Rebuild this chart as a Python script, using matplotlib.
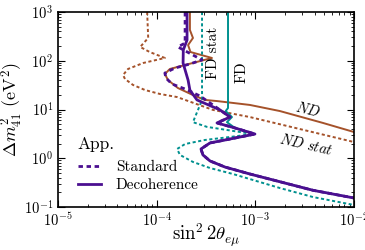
import numpy as np
import matplotlib
matplotlib.use('Agg')
import matplotlib.pyplot as plt

plt.rcParams['font.family'] = 'cmr10'
plt.rcParams['mathtext.fontset'] = 'cm'
plt.rcParams['axes.formatter.use_mathtext'] = True
plt.rcParams['font.size'] = 10

# ND stat (brown dashed)
nd_stat_s = [8.0e-5, 8.2e-5, 6.8e-5, 8.5e-5, 1.21e-4, 7.3e-5, 5.12e-5, 4.56e-5, 4.77e-5, 5.75e-5,
             7.61e-5, 1.08e-4, 1.61e-4, 3.72e-4, 8.8e-4, 1e-2]
nd_stat_dm = [1000, 293, 192, 151, 114, 90, 67.8, 51, 42.3, 31.9,
              25.1, 20.8, 18.0, 9.8, 7.0, 2.15]

# ND (brown solid)
nd_s = [2.17e-4, 2.17e-4, 2.33e-4, 2.08e-4, 2.2e-4, 3.63e-4, 1.94e-4, 1.36e-4, 1.21e-4, 1.30e-4,
        1.64e-4, 2.33e-4, 3.08e-4, 4.08e-4, 8.8e-4, 1.77e-3, 4.84e-3, 1e-2]
nd_dm = [1000, 428, 293, 210, 151, 114, 81.9, 67.8, 53.6, 40.3,
         27.6, 19.8, 15.7, 14.9, 12.4, 9.3, 5.3, 3.45]

# FD stat (teal dotted)
fd_stat_s = [2.88e-4, 2.88e-4, 2.62e-4, 2.33e-4, 3.23e-4, 9.46e-4, 5.53e-4, 3.08e-4, 1.94e-4,
             1.61e-4, 1.72e-4, 2.33e-4, 3.47e-4, 5.93e-4, 1.77e-3, 3.84e-3, 1e-2]
fd_stat_dm = [1000, 15.7, 9.8, 5.5, 4.4, 3.14, 2.73, 2.37, 1.96,
              1.55, 1.17, 0.84, 0.63, 0.475, 0.245, 0.16, 0.11]

# FD (teal solid)
fd_s = [5.28e-4, 5.28e-4, 5.0e-4, 5.79e-4, 5.15e-4, 6.21e-4, 9.9e-4, 5.53e-4, 3.47e-4, 2.81e-4,
        2.94e-4, 3.47e-4, 4.92e-4, 8.81e-4, 1.77e-3, 3.84e-3, 1e-2]
fd_dm = [1000, 10.7, 9.3, 7.0, 5.5, 4.18, 3.14, 2.48, 2.06, 1.55,
         1.17, 0.88, 0.66, 0.475, 0.33, 0.22, 0.153]

# Decoherence (purple solid)
dec_s = [2.03e-4, 2.03e-4, 1.86e-4, 1.85e-4, 2.08e-4, 2.17e-4, 2.56e-4, 4.38e-4, 5.53e-4,
         4.08e-4, 6.21e-4, 9.9e-4, 5.53e-4, 3.47e-4, 2.81e-4, 2.94e-4, 3.47e-4, 4.92e-4,
         8.81e-4, 1.77e-3, 3.84e-3, 1e-2]
dec_dm = [1000, 267, 166, 90, 40, 25, 15.7, 9.8, 7.0,
          5.3, 4.18, 3.14, 2.48, 2.06, 1.55, 1.17, 0.88, 0.66,
          0.475, 0.33, 0.22, 0.153]

# Standard (purple dotted)
std_s = [1.94e-4, 1.94e-4, 1.64e-4, 2.88e-4, 2.17e-4, 1.53e-4, 1.21e-4, 1.24e-4, 1.43e-4,
         1.94e-4, 2.75e-4, 4.38e-4, 5.53e-4, 4.08e-4, 6.21e-4, 9.9e-4, 5.53e-4, 3.47e-4,
         2.81e-4, 2.94e-4, 3.47e-4, 4.92e-4, 8.81e-4, 1.77e-3, 3.84e-3, 1e-2]
std_dm = [1000, 231, 192, 104, 85.8, 70.9, 56, 44.3, 33.3,
          26.3, 18.9, 9.8, 7.0, 5.3, 4.18, 3.14, 2.48, 2.06,
          1.55, 1.17, 0.88, 0.66, 0.475, 0.33, 0.22, 0.153]

brown = '#a5522a'
teal = '#00908f'
purple = '#4b0f90'
dots = (0, (1.6, 1.3))

fig = plt.figure(figsize=(3.65, 2.5), dpi=100)
ax = fig.add_axes([0.159, 0.172, 0.811, 0.780])

ax.plot(nd_stat_s, nd_stat_dm, color=brown, lw=1.4, linestyle=dots)
ax.plot(nd_s, nd_dm, color=brown, lw=1.4)
ax.plot(fd_stat_s, fd_stat_dm, color=teal, lw=1.4, linestyle=dots)
ax.plot(fd_s, fd_dm, color=teal, lw=1.4)
ax.plot(std_s, std_dm, color=purple, lw=2.0, linestyle=dots, label='Standard')
ax.plot(dec_s, dec_dm, color=purple, lw=2.0, label='Decoherence')

ax.set_xscale('log')
ax.set_yscale('log')
ax.set_xlim(1e-5, 1e-2)
ax.set_ylim(1e-1, 1e3)

ax.tick_params(which='both', direction='in', top=True, right=True, labelsize=10.5)
ax.tick_params(which='major', length=5)
ax.tick_params(which='minor', length=2.5)
for sp in ax.spines.values():
    sp.set_linewidth(1.2)

ax.set_xlabel(r'$\sin^2 2\theta_{e\mu}$', fontsize=13.5, labelpad=-6)
ax.set_ylabel(r'$\Delta m^2_{41}$ $(\mathrm{eV}^2)$', fontsize=13, labelpad=-1)

ax.text(3.7e-4, 144, 'FD stat', rotation=90, ha='center', va='center', fontsize=11)
ax.text(7.3e-4, 59, 'FD', rotation=90, ha='center', va='center', fontsize=11)
ax.text(3.4e-3, 9.8, r'$ND$', rotation=-14, ha='center', va='center', fontsize=10.5)
ax.text(3.3e-3, 1.87, r'$ND\ stat$', rotation=-13, ha='center', va='center', fontsize=10.5)

leg = ax.legend(title='App.', loc='lower left', bbox_to_anchor=(0.03, 0.02), frameon=False,
                fontsize=11, title_fontsize=12.5, handlelength=1.5, handletextpad=1.0,
                borderaxespad=0.3, labelspacing=0.3)
leg._legend_box.align = 'left'
leg._legend_box.sep = 6

fig.savefig('out.png', dpi=100)
